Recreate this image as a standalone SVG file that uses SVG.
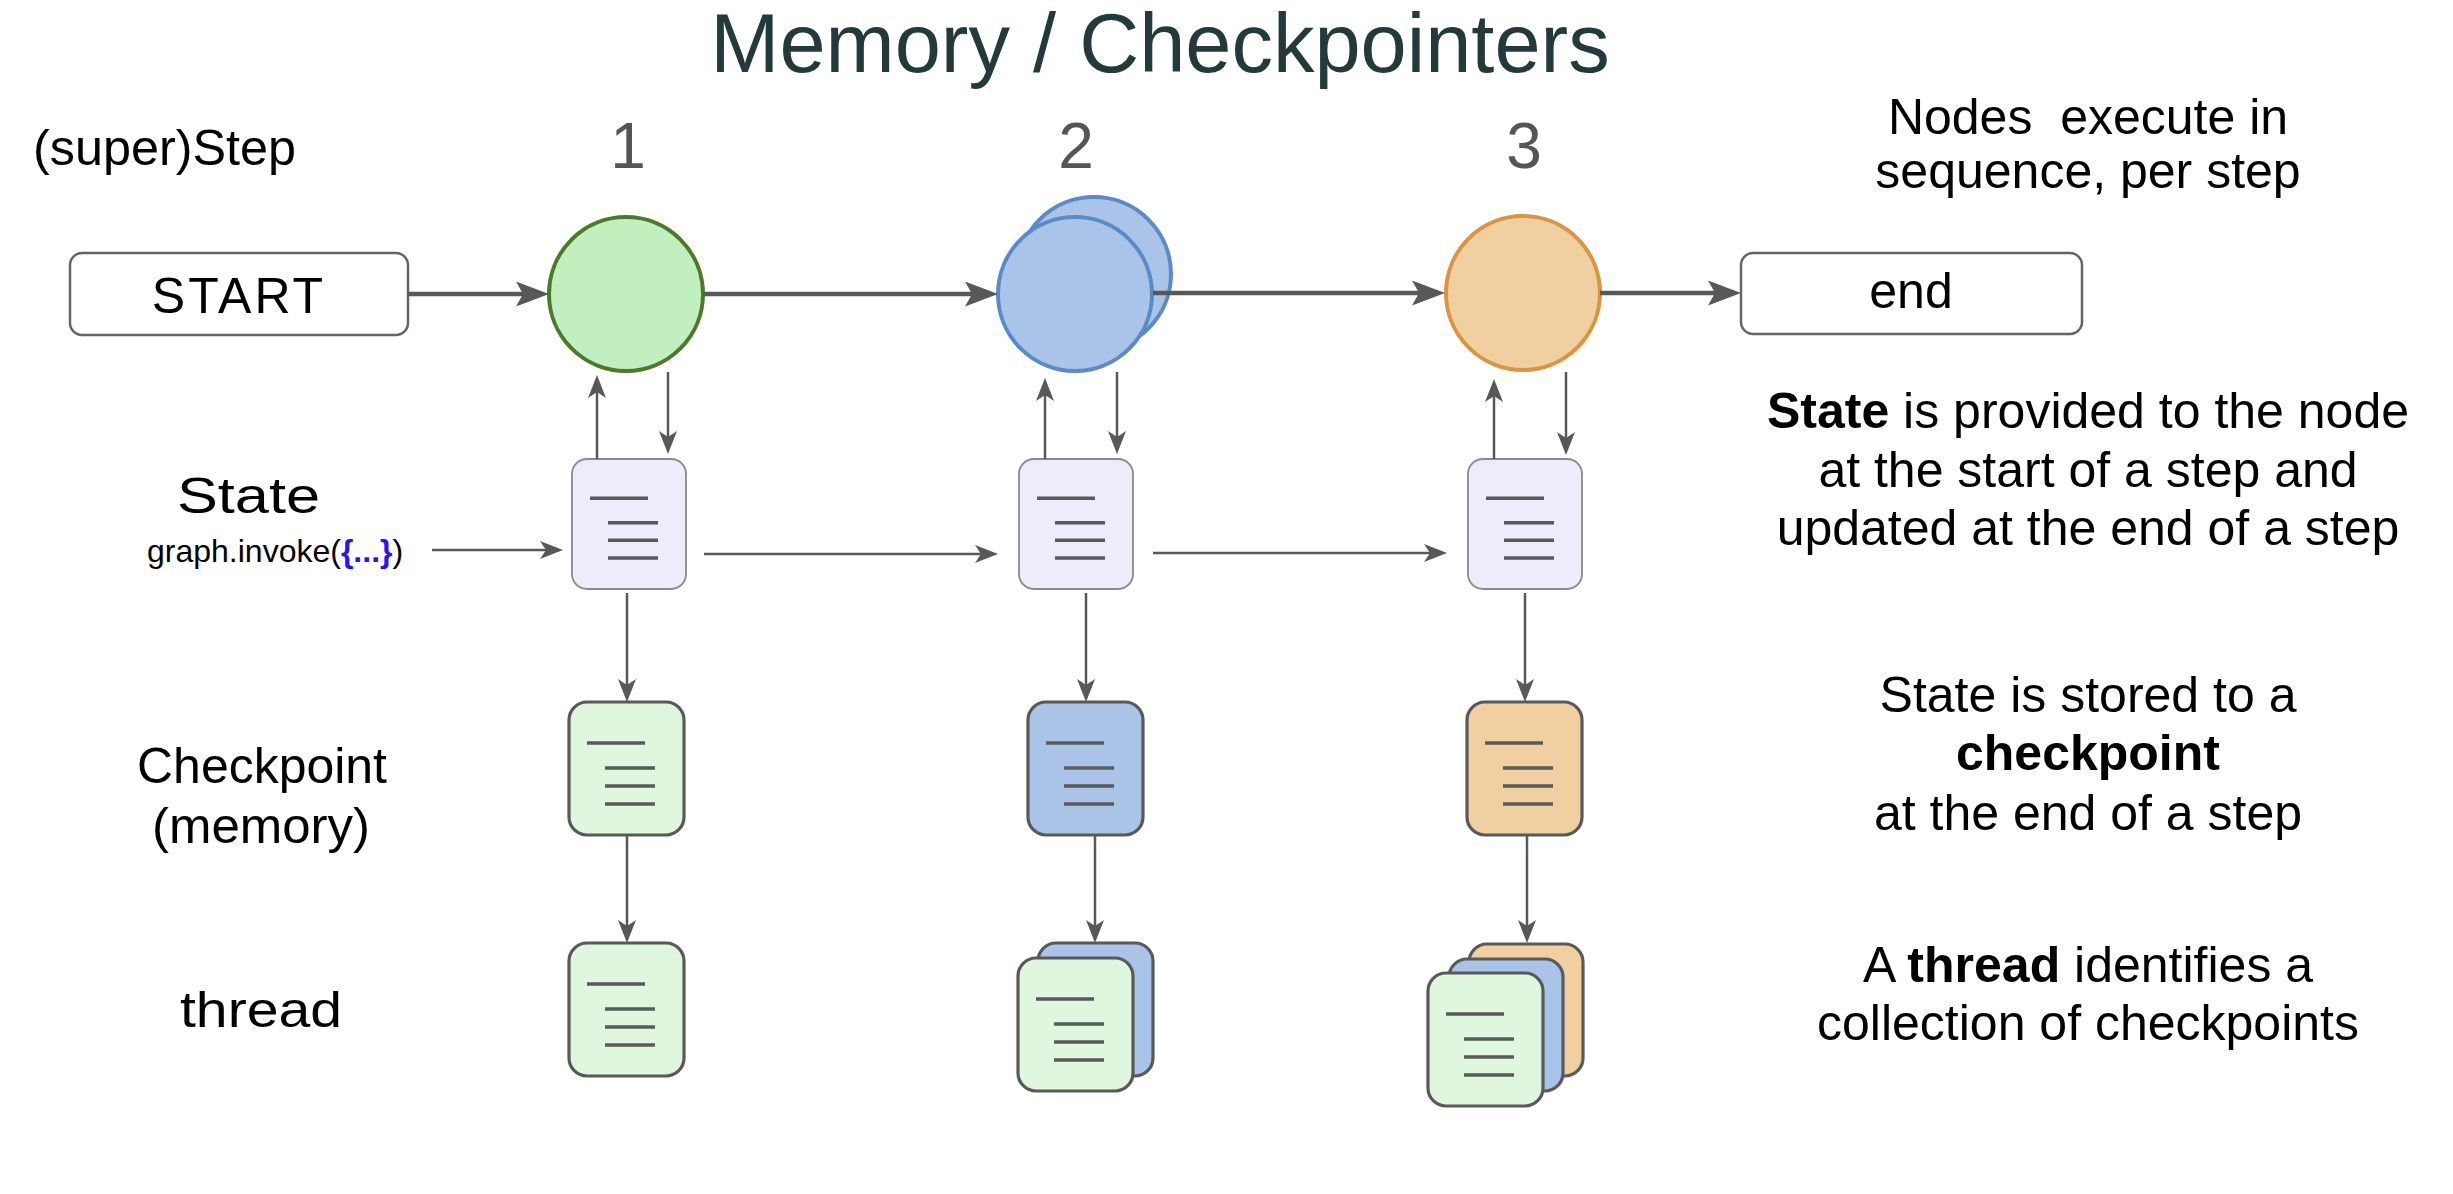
<svg xmlns="http://www.w3.org/2000/svg" width="2453" height="1194" viewBox="0 0 2453 1194">
<style>
.hand{font-family:"Liberation Sans","DejaVu Sans",sans-serif;font-size:50px;fill:#000}
.num{font-family:"Liberation Sans",sans-serif;font-size:64px;fill:#555;text-anchor:middle}
.desc{font-family:"Liberation Sans","DejaVu Sans",sans-serif;font-size:50px;fill:#000;text-anchor:middle;white-space:pre}
.b{font-weight:bold}
.thick{fill:none;stroke:#585858;stroke-width:4.5}
.thin{fill:none;stroke:#585858;stroke-width:2.5}
.box{fill:#fff;stroke:#666;stroke-width:2.5}
.state{fill:#eeecfb;stroke:#8a8a8a;stroke-width:1.8}
.ln{stroke:#5a5a5a;stroke-width:3.5}
.cp{stroke:#595959;stroke-width:3.2}
.g{fill:#dff6df}
.bl{fill:#a9c4e6}
.or{fill:#f0d0a1}
</style>
<defs>
<marker id="ah" markerUnits="userSpaceOnUse" markerWidth="34" markerHeight="26" viewBox="0 0 34 26" refX="23" refY="12.5" orient="auto"><path d="M0,0 L33,12.5 L0,25 L7,12.5 z" fill="#585858"/></marker>
<marker id="ah2" markerUnits="userSpaceOnUse" markerWidth="24" markerHeight="18" viewBox="0 0 24 18" refX="16" refY="9" orient="auto"><path d="M0,0 L23,9 L0,18 L6,9 z" fill="#585858"/></marker>
<g id="lines">
<path class="ln" d="M18,41 H76 M36,66 H86 M36,84 H86 M36,102 H86"/>
</g>
</defs>

<text x="1160" y="72" font-family="Liberation Sans,sans-serif" font-size="83" fill="#243a3a" text-anchor="middle">Memory / Checkpointers</text>

<g id="labels">
<text class="hand" x="33" y="165" textLength="263" lengthAdjust="spacingAndGlyphs">(super)Step</text>
<text class="hand" x="177" y="513" font-size="54" textLength="143" lengthAdjust="spacingAndGlyphs">State</text>
<text x="147" y="562" font-family="Liberation Sans,sans-serif" font-size="32" fill="#000">graph.invoke(<tspan fill="#2a10ff" font-weight="bold">{...}</tspan>)</text>
<text class="hand" x="137" y="783" textLength="250" lengthAdjust="spacingAndGlyphs">Checkpoint</text>
<text class="hand" x="152" y="843" textLength="218" lengthAdjust="spacingAndGlyphs">(memory)</text>
<text class="hand" x="180" y="1027" textLength="162" lengthAdjust="spacingAndGlyphs">thread</text>
<text class="num" x="628" y="168">1</text>
<text class="num" x="1076" y="168">2</text>
<text class="num" x="1524" y="168">3</text>
</g>

<g id="descriptions">
<text class="desc" x="2088" y="134">Nodes  execute in</text>
<text class="desc" x="2088" y="188">sequence, per step</text>
<text class="desc" x="2088" y="428"><tspan class="b">State</tspan> is provided to the node</text>
<text class="desc" x="2088" y="487">at the start of a step and</text>
<text class="desc" x="2088" y="545">updated at the end of a step</text>
<text class="desc" x="2088" y="712">State is stored to a</text>
<text class="desc b" x="2088" y="770">checkpoint</text>
<text class="desc" x="2088" y="830">at the end of a step</text>
<text class="desc" x="2088" y="982">A <tspan class="b">thread</tspan> identifies a</text>
<text class="desc" x="2088" y="1040">collection of checkpoints</text>
</g>

<g id="node-start">
<rect class="box" x="70" y="253" width="338" height="82" rx="12"/>
<text class="hand" x="239" y="313" text-anchor="middle" letter-spacing="3">START</text>
</g>
<g id="node-end">
<rect class="box" x="1741" y="253" width="341" height="81" rx="12"/>
<text class="hand" x="1911" y="308" text-anchor="middle">end</text>
</g>

<g id="node-step1">
<circle cx="626" cy="294" r="77" fill="#c1efc0" stroke="#4d7a29" stroke-width="4"/>
</g>
<g id="node-step2">
<circle cx="1094" cy="274" r="77" fill="#a9c4e8" stroke="#5a8ac8" stroke-width="4"/>
<circle cx="1075" cy="294" r="77" fill="#a9c4e8" stroke="#5a8ac8" stroke-width="4"/>
</g>
<g id="node-step3">
<circle cx="1523" cy="293" r="77" fill="#f0cfa1" stroke="#d9953f" stroke-width="4"/>
</g>

<g id="state1" transform="translate(572,459)">
<rect class="state" width="114" height="130" rx="15"/><use href="#lines" transform="translate(0,-1) scale(1,0.98)"/>
</g>
<g id="state2" transform="translate(1019,459)">
<rect class="state" width="114" height="130" rx="15"/><use href="#lines" transform="translate(0,-1) scale(1,0.98)"/>
</g>
<g id="state3" transform="translate(1468,459)">
<rect class="state" width="114" height="130" rx="15"/><use href="#lines" transform="translate(0,-1) scale(1,0.98)"/>
</g>

<g id="checkpoint1" transform="translate(569,702)">
<rect class="cp g" width="115" height="133" rx="18"/><use href="#lines"/>
</g>
<g id="checkpoint2" transform="translate(1028,702)">
<rect class="cp bl" width="115" height="133" rx="18"/><use href="#lines"/>
</g>
<g id="checkpoint3" transform="translate(1467,702)">
<rect class="cp or" width="115" height="133" rx="18"/><use href="#lines"/>
</g>

<g id="thread1" transform="translate(569,943)">
<rect class="cp g" width="115" height="133" rx="18"/><use href="#lines"/>
</g>
<g id="thread2">
<rect class="cp bl" x="1038" y="943" width="115" height="133" rx="18"/>
<g transform="translate(1018,958)"><rect class="cp g" width="115" height="133" rx="18"/><use href="#lines"/></g>
</g>
<g id="thread3">
<rect class="cp or" x="1469" y="944" width="114" height="132" rx="18"/>
<rect class="cp bl" x="1449" y="959" width="114" height="132" rx="18"/>
<g transform="translate(1428,973)"><rect class="cp g" width="115" height="133" rx="18"/><use href="#lines"/></g>
</g>

<g id="connectors">
<path class="thick" d="M408,294 H539" marker-end="url(#ah)"/>
<path class="thick" d="M703,294 H988" marker-end="url(#ah)"/>
<path class="thick" d="M1153,293 H1435" marker-end="url(#ah)"/>
<path class="thick" d="M1600,293 H1731" marker-end="url(#ah)"/>
<path class="thin" d="M597,459 V382" marker-end="url(#ah2)"/>
<path class="thin" d="M668,372 V447" marker-end="url(#ah2)"/>
<path class="thin" d="M1045,459 V385" marker-end="url(#ah2)"/>
<path class="thin" d="M1117,372 V447" marker-end="url(#ah2)"/>
<path class="thin" d="M1494,459 V386" marker-end="url(#ah2)"/>
<path class="thin" d="M1566,372 V448" marker-end="url(#ah2)"/>
<path class="thin" d="M432,550 H556" marker-end="url(#ah2)"/>
<path class="thin" d="M704,554 H991" marker-end="url(#ah2)"/>
<path class="thin" d="M1153,553 H1440" marker-end="url(#ah2)"/>
<path class="thin" d="M627,593 V695" marker-end="url(#ah2)"/>
<path class="thin" d="M1086,593 V695" marker-end="url(#ah2)"/>
<path class="thin" d="M1525,593 V695" marker-end="url(#ah2)"/>
<path class="thin" d="M627,835 V936" marker-end="url(#ah2)"/>
<path class="thin" d="M1095,835 V936" marker-end="url(#ah2)"/>
<path class="thin" d="M1527,835 V936" marker-end="url(#ah2)"/>
</g>
</svg>
